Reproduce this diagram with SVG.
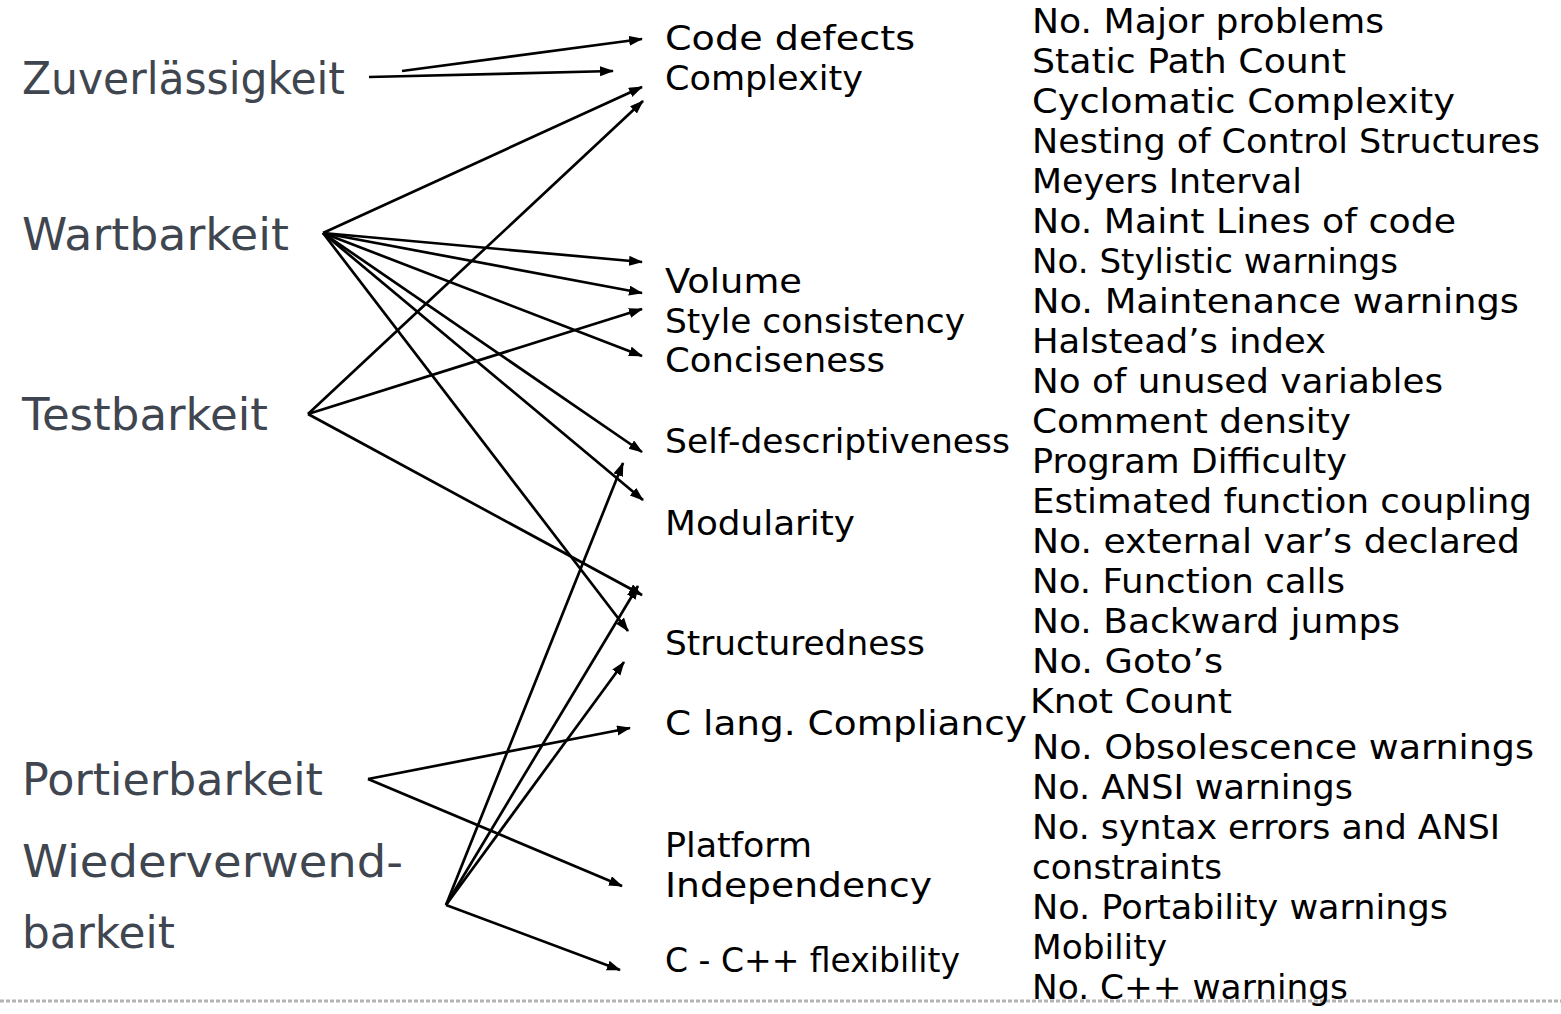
<svg xmlns="http://www.w3.org/2000/svg" width="1561" height="1014" viewBox="0 0 1561 1014">
<style>
text{font-family:"DejaVu Sans","Liberation Sans",sans-serif;}
.q{font-size:45px;fill:#3f4650;}
.m{font-size:34px;fill:#000;}
.r{font-size:33px;fill:#000;}
.c line{stroke:#000;stroke-width:2.7;marker-end:url(#ah);}
</style>
<defs>
<marker id="ah" markerUnits="userSpaceOnUse" markerWidth="15" markerHeight="11" refX="13" refY="5" orient="auto">
<path d="M0,0 L14,5 L0,10 Z" fill="#000"/>
</marker>
</defs>
<rect width="1561" height="1014" fill="#fff"/>
<line x1="0" y1="1001" x2="1561" y2="1001" stroke="#b4b4b4" stroke-width="3" stroke-dasharray="4 2"/>

<g class="c" id="connectors">
<line x1="402" y1="71" x2="642" y2="39"/>
<line x1="369" y1="77" x2="613" y2="71"/>
<line x1="323" y1="233" x2="642" y2="87"/>
<line x1="323" y1="233" x2="642" y2="262"/>
<line x1="323" y1="233" x2="642" y2="293"/>
<line x1="323" y1="233" x2="642" y2="356"/>
<line x1="323" y1="233" x2="642" y2="452"/>
<line x1="323" y1="233" x2="643" y2="500"/>
<line x1="323" y1="233" x2="628" y2="631"/>
<line x1="308" y1="414" x2="643" y2="101"/>
<line x1="308" y1="414" x2="642" y2="309"/>
<line x1="308" y1="414" x2="642" y2="595"/>
<line x1="368" y1="779" x2="630" y2="728"/>
<line x1="368" y1="779" x2="622" y2="886"/>
<line x1="446" y1="905" x2="623" y2="463"/>
<line x1="446" y1="905" x2="638" y2="586"/>
<line x1="446" y1="905" x2="624" y2="662"/>
<line x1="446" y1="905" x2="620" y2="970"/>
</g>

<g id="zuverlaessigkeit"><text class="q" x="22" y="94" textLength="323" lengthAdjust="spacingAndGlyphs">Zuverlässigkeit</text></g>
<g id="wartbarkeit"><text class="q" x="22" y="250" textLength="267" lengthAdjust="spacingAndGlyphs">Wartbarkeit</text></g>
<g id="testbarkeit"><text class="q" x="22" y="430" textLength="246" lengthAdjust="spacingAndGlyphs">Testbarkeit</text></g>
<g id="portierbarkeit"><text class="q" x="22" y="795" textLength="301" lengthAdjust="spacingAndGlyphs">Portierbarkeit</text></g>
<g id="wiederverwendbarkeit">
<text class="q" x="22" y="877" textLength="381" lengthAdjust="spacingAndGlyphs">Wiederverwend-</text>
<text class="q" x="22" y="948" textLength="153" lengthAdjust="spacingAndGlyphs">barkeit</text>
</g>

<g id="code-defects"><text class="m" x="665" y="50" textLength="250" lengthAdjust="spacingAndGlyphs">Code defects</text></g>
<g id="complexity"><text class="m" x="665" y="90" textLength="198" lengthAdjust="spacingAndGlyphs">Complexity</text></g>
<g id="volume"><text class="m" x="665" y="293" textLength="137" lengthAdjust="spacingAndGlyphs">Volume</text></g>
<g id="style-consistency"><text class="m" x="665" y="333" textLength="300" lengthAdjust="spacingAndGlyphs">Style consistency</text></g>
<g id="conciseness"><text class="m" x="665" y="372" textLength="220" lengthAdjust="spacingAndGlyphs">Conciseness</text></g>
<g id="self-descriptiveness"><text class="m" x="665" y="453" textLength="345" lengthAdjust="spacingAndGlyphs">Self-descriptiveness</text></g>
<g id="modularity"><text class="m" x="665" y="535" textLength="190" lengthAdjust="spacingAndGlyphs">Modularity</text></g>
<g id="structuredness"><text class="m" x="665" y="655" textLength="260" lengthAdjust="spacingAndGlyphs">Structuredness</text></g>
<g id="c-lang-compliancy"><text class="m" x="665" y="735" textLength="362" lengthAdjust="spacingAndGlyphs">C lang. Compliancy</text></g>
<g id="platform-independency">
<text class="m" x="665" y="857" textLength="147" lengthAdjust="spacingAndGlyphs">Platform</text>
<text class="m" x="665" y="897" textLength="267" lengthAdjust="spacingAndGlyphs">Independency</text>
</g>
<g id="c-cpp-flexibility"><text class="m" x="665" y="972" textLength="295" lengthAdjust="spacingAndGlyphs">C - C++ flexibility</text></g>

<g id="metrics">
<text class="r" x="1032" y="33" textLength="352" lengthAdjust="spacingAndGlyphs">No. Major problems</text>
<text class="r" x="1032" y="73" textLength="314" lengthAdjust="spacingAndGlyphs">Static Path Count</text>
<text class="r" x="1032" y="113" textLength="423" lengthAdjust="spacingAndGlyphs">Cyclomatic Complexity</text>
<text class="r" x="1032" y="153" textLength="508" lengthAdjust="spacingAndGlyphs">Nesting of Control Structures</text>
<text class="r" x="1032" y="193" textLength="270" lengthAdjust="spacingAndGlyphs">Meyers Interval</text>
<text class="r" x="1032" y="233" textLength="424" lengthAdjust="spacingAndGlyphs">No. Maint Lines of code</text>
<text class="r" x="1032" y="273" textLength="366" lengthAdjust="spacingAndGlyphs">No. Stylistic warnings</text>
<text class="r" x="1032" y="313" textLength="487" lengthAdjust="spacingAndGlyphs">No. Maintenance warnings</text>
<text class="r" x="1032" y="353" textLength="294" lengthAdjust="spacingAndGlyphs">Halstead’s index</text>
<text class="r" x="1032" y="393" textLength="411" lengthAdjust="spacingAndGlyphs">No of unused variables</text>
<text class="r" x="1032" y="433" textLength="319" lengthAdjust="spacingAndGlyphs">Comment density</text>
<text class="r" x="1032" y="473" textLength="315" lengthAdjust="spacingAndGlyphs">Program Difficulty</text>
<text class="r" x="1032" y="513" textLength="500" lengthAdjust="spacingAndGlyphs">Estimated function coupling</text>
<text class="r" x="1032" y="553" textLength="488" lengthAdjust="spacingAndGlyphs">No. external var’s declared</text>
<text class="r" x="1032" y="593" textLength="313" lengthAdjust="spacingAndGlyphs">No. Function calls</text>
<text class="r" x="1032" y="633" textLength="368" lengthAdjust="spacingAndGlyphs">No. Backward jumps</text>
<text class="r" x="1032" y="673" textLength="191" lengthAdjust="spacingAndGlyphs">No. Goto’s</text>
<text class="r" x="1030" y="713" textLength="202" lengthAdjust="spacingAndGlyphs">Knot Count</text>
<text class="r" x="1032" y="759" textLength="502" lengthAdjust="spacingAndGlyphs">No. Obsolescence warnings</text>
<text class="r" x="1032" y="799" textLength="321" lengthAdjust="spacingAndGlyphs">No. ANSI warnings</text>
<text class="r" x="1032" y="839" textLength="468" lengthAdjust="spacingAndGlyphs">No. syntax errors and ANSI</text>
<text class="r" x="1032" y="879" textLength="190" lengthAdjust="spacingAndGlyphs">constraints</text>
<text class="r" x="1032" y="919" textLength="416" lengthAdjust="spacingAndGlyphs">No. Portability warnings</text>
<text class="r" x="1032" y="959" textLength="135" lengthAdjust="spacingAndGlyphs">Mobility</text>
<text class="r" x="1032" y="999" textLength="316" lengthAdjust="spacingAndGlyphs">No. C++ warnings</text>
</g>
</svg>
